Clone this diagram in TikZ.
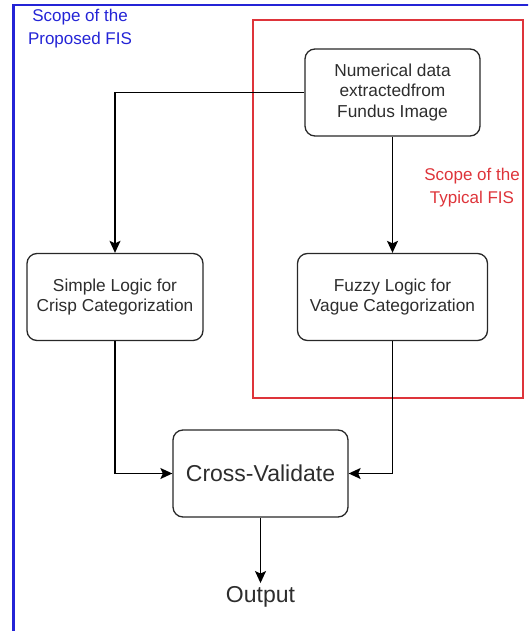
\documentclass[tikz,border=0pt]{standalone}
\usepackage{fontspec}
\setmainfont{Liberation Sans}
\usetikzlibrary{arrows.meta}
\definecolor{scopeblue}{RGB}{36,36,214}
\definecolor{scopered}{RGB}{222,52,58}
\definecolor{boxline}{RGB}{40,40,40}
\definecolor{txt}{RGB}{45,45,45}
\tikzset{
  procbox/.style={draw=boxline, line width=1.3pt, rounded corners=10pt,
    minimum width=#1, minimum height=87pt, align=center, text=txt,
    font=\fontsize{17.3}{20.5}\selectfont},
  procbox/.default=176pt,
  flow/.style={draw=black, line width=1.3pt, -{Stealth[length=12pt,width=11pt,inset=2.5pt]}},
  scopelabel/.style={align=center, font=\fontsize{17}{23}\selectfont},
}
\begin{document}
\begin{tikzpicture}[x=1pt,y=-1pt]
\useasboundingbox (0,0) rectangle (528,631);
\clip (0,0) rectangle (528,631);
% outer scope frame (runs past the right and bottom edges)
\draw[scopeblue, line width=2.6pt] (13.5,5) rectangle (560,631.8);
\node[scopelabel, text=scopeblue] (proposed) at (80,29) {Scope of the\\Proposed FIS};
% inner scope frame
\draw[scopered, line width=2.6pt] (253,20) rectangle (523,398);
\node[scopelabel, text=scopered] (typical) at (472,188) {Scope of the\\Typical FIS};
% process boxes
\node[procbox=175pt] (num) at (392.5,92.5) {Numerical data\\extractedfrom\\Fundus Image};
\node[procbox=190pt] (fuzzy) at (392.5,297) {Fuzzy Logic for\\Vague Categorization};
\node[procbox=176pt] (simple) at (115,297) {Simple Logic for\\Crisp Categorization};
\node[procbox=175pt, font=\fontsize{23}{26}\selectfont] (cross) at (260.5,473.5) {Cross-Validate};
\node[text=txt, font=\fontsize{23}{26}\selectfont] (out) at (260.5,597) {Output};
% connectors
\draw[flow] (num.west) -| (simple.north);
\draw[flow] (num.south) -- (fuzzy.north);
\draw[flow] (simple.south) |- (cross.west);
\draw[flow] (fuzzy.south) |- (cross.east);
\draw[flow] (cross.south) -- (out.north);
\end{tikzpicture}
\end{document}
